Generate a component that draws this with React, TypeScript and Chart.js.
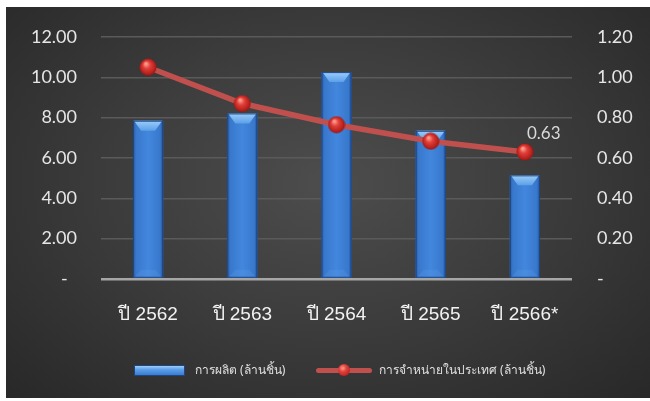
import React, { useEffect, useRef } from "react";
import { Chart, registerables } from "chart.js";

Chart.register(...registerables);

const categories = ["ปี 2562", "ปี 2563", "ปี 2564", "ปี 2565", "ปี 2566*"];
const production = [7.85, 8.21, 10.26, 7.35, 5.14];
const domesticSales = [1.05, 0.87, 0.765, 0.683, 0.63];
const productionLabel = "การผลิต (ล้านชิ้น)";
const salesLabel = "การจำหน่ายในประเทศ (ล้านชิ้น)";
const leftTicks = { min: 0, max: 12, step: 2 };
const rightTicks = { min: 0, max: 1.2, step: 0.2 };
const labeledPoints = [4];

function makeBall(d: number): HTMLCanvasElement {
  const c = document.createElement("canvas");
  c.width = d;
  c.height = d;
  const ctx = c.getContext("2d")!;
  const r = d / 2;
  const g = ctx.createRadialGradient(r * 0.75, r * 0.6, r * 0.1, r, r, r);
  g.addColorStop(0, "#ff9a8a");
  g.addColorStop(0.35, "#e0403a");
  g.addColorStop(0.8, "#b8201c");
  g.addColorStop(1, "#8a1410");
  ctx.fillStyle = g;
  ctx.beginPath();
  ctx.arc(r, r, r - 0.5, 0, Math.PI * 2);
  ctx.fill();
  return c;
}

const bevelPlugin = {
  id: "bevel",
  afterDatasetDraw(chart: any, args: any) {
    const meta = args.meta;
    if (meta.type !== "bar") return;
    const ctx = chart.ctx;
    ctx.save();
    meta.data.forEach((el: any) => {
      const { x, y, base, width } = el.getProps(["x", "y", "base", "width"], true);
      const l = x - width / 2;
      const r = x + width / 2;
      const g = ctx.createLinearGradient(l, 0, r, 0);
      g.addColorStop(0, "#2a5aa6");
      g.addColorStop(0.1, "#3878cc");
      g.addColorStop(0.5, "#4287de");
      g.addColorStop(0.9, "#3878cc");
      g.addColorStop(1, "#244f95");
      ctx.fillStyle = g;
      ctx.fillRect(l, y, width, base - y);
      // top bevel (trapezoid)
      const depth = Math.min(10, (base - y) / 2);
      const tg = ctx.createLinearGradient(0, y, 0, y + depth);
      tg.addColorStop(0, "#9ccdfa");
      tg.addColorStop(1, "#5b9fe8");
      ctx.fillStyle = tg;
      ctx.beginPath();
      ctx.moveTo(l + 1, y);
      ctx.lineTo(r - 1, y);
      ctx.lineTo(x + 7, y + depth);
      ctx.lineTo(x - 7, y + depth);
      ctx.closePath();
      ctx.fill();
      // bottom bevel
      ctx.fillStyle = "rgba(90,150,225,0.35)";
      ctx.beginPath();
      ctx.moveTo(l + 1, base);
      ctx.lineTo(r - 1, base);
      ctx.lineTo(x + 7, base - 8);
      ctx.lineTo(x - 7, base - 8);
      ctx.closePath();
      ctx.fill();
      ctx.strokeStyle = "#1d4682";
      ctx.lineWidth = 1;
      ctx.strokeRect(l + 0.5, y + 0.5, width - 1, base - y - 1);
    });
    ctx.restore();
  },
};

const labelPlugin = {
  id: "pointLabels",
  afterDatasetsDraw(chart: any) {
    const ctx = chart.ctx;
    const meta = chart.getDatasetMeta(1);
    const ds = chart.data.datasets[1];
    ctx.save();
    ctx.font = "17px Lato, 'Open Sans', sans-serif";
    ctx.fillStyle = "#d9d9d9";
    ctx.textAlign = "left";
    ctx.textBaseline = "middle";
    labeledPoints.forEach((i) => {
      const el = meta.data[i];
      if (!el) return;
      ctx.fillText(Number(ds.data[i]).toFixed(2), el.x + 2, el.y - 18);
    });
    ctx.restore();
  },
};

export default function App() {
  const ref = useRef<HTMLCanvasElement>(null);
  useEffect(() => {
    document.body.style.margin = "0";
    const ball = makeBall(18);
    const tickFont = { family: "Lato, 'Open Sans', sans-serif", size: 18 };
    const chart = new Chart(ref.current!, {
      type: "bar",
      data: {
        labels: categories,
        datasets: [
          {
            type: "bar",
            label: productionLabel,
            data: production,
            yAxisID: "y",
            backgroundColor: "#3a7bd0",
            borderWidth: 0,
            categoryPercentage: 1,
            barPercentage: 0.32,
            order: 1,
          },
          {
            type: "line",
            label: salesLabel,
            data: domesticSales,
            yAxisID: "y1",
            borderColor: "#c0504d",
            borderWidth: 5.5,
            pointStyle: ball as any,
            pointRadius: 9,
            tension: 0,
            order: 0,
          },
        ],
      },
      options: {
        animation: false,
        responsive: false,
        maintainAspectRatio: false,
        layout: { padding: { top: 37, bottom: 0, left: 0, right: 0 } },
        plugins: { legend: { display: false }, tooltip: { enabled: false } },
        scales: {
          x: {
            grid: { display: false, drawTicks: false },
            border: { display: false },
            ticks: {
              color: "#f2f2f2",
              padding: 24,
              font: { family: "'Liberation Sans', Arial, sans-serif", size: 19 },
            },
            afterFit(scale: any) {
              scale.height = 122;
            },
          },
          y: {
            position: "left",
            min: leftTicks.min,
            max: leftTicks.max,
            ticks: {
              stepSize: leftTicks.step,
              color: "#e6e6e6",
              padding: 24,
              font: tickFont,
              callback: (v: any) => (Number(v) === 0 ? "-  " : Number(v).toFixed(2)),
            },
            grid: {
              drawTicks: false,
              color: (c: any) => (c.tick && c.tick.value === 0 ? "#a6a6a6" : "#5a5a5a"),
              lineWidth: (c: any) => (c.tick && c.tick.value === 0 ? 2.5 : 1.5),
            },
            border: { display: false },
            afterFit(scale: any) {
              scale.width = 101;
            },
          },
          y1: {
            position: "right",
            min: rightTicks.min,
            max: rightTicks.max,
            ticks: {
              stepSize: rightTicks.step,
              color: "#e6e6e6",
              padding: 25,
              font: tickFont,
              callback: (v: any) => (Math.abs(Number(v)) < 1e-9 ? "-" : Number(v).toFixed(2)),
            },
            grid: { display: false, drawTicks: false },
            border: { display: false },
            afterFit(scale: any) {
              scale.width = 78;
            },
          },
        },
      },
      plugins: [bevelPlugin, labelPlugin],
    } as any);
    return () => chart.destroy();
  }, []);

  const legendText: React.CSSProperties = {
    position: "absolute",
    top: 362,
    fontSize: 12,
    color: "#e0e0e0",
    fontFamily: "'Noto Sans', 'Liberation Sans', sans-serif",
    lineHeight: "16px",
    whiteSpace: "nowrap",
  };

  return (
    <div style={{ position: "fixed", left: 0, top: 0, width: 650, height: 401, background: "#ffffff", overflow: "hidden" }}>
      <div
        style={{
          position: "absolute",
          left: 6,
          top: 7,
          width: 644,
          height: 391,
          background: "radial-gradient(ellipse at 50% 45%, #4d4d4d 0%, #3d3d3d 45%, #282828 100%)",
        }}
      />
      <canvas ref={ref} width={650} height={401} style={{ position: "absolute", left: 0, top: 0, width: 650, height: 401 }} />
      <div
        style={{
          position: "absolute",
          left: 134,
          top: 365,
          width: 51,
          height: 11,
          background: "linear-gradient(180deg, #9ccdfa 0%, #5b9fe8 40%, #3a7bd0 100%)",
          border: "1px solid #1d4682",
          boxSizing: "border-box",
        }}
      />
      <div style={{ ...legendText, left: 195 }}>{productionLabel}</div>
      <div
        style={{
          position: "absolute",
          left: 316,
          top: 368,
          width: 56,
          height: 5,
          borderRadius: 3,
          background: "#c0504d",
        }}
      />
      <div
        style={{
          position: "absolute",
          left: 338,
          top: 364,
          width: 12,
          height: 12,
          borderRadius: 6,
          background: "radial-gradient(circle at 40% 35%, #ff9a8a 0%, #e0403a 35%, #b8201c 80%, #8a1410 100%)",
        }}
      />
      <div style={{ ...legendText, left: 379 }}>{salesLabel}</div>
    </div>
  );
}
